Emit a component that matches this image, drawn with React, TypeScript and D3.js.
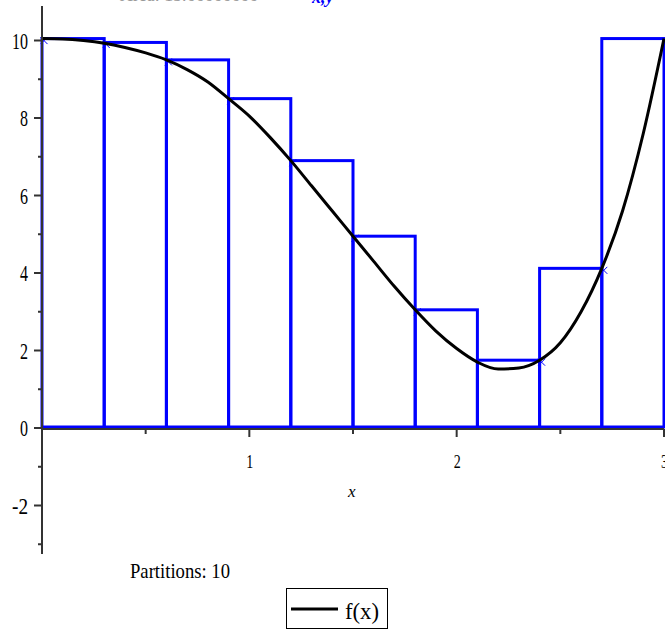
import React from "react";
import * as d3 from "d3";

const curveX = [0, 0.1, 0.2, 0.3, 0.4, 0.5, 0.6, 0.7, 0.8, 0.9, 1.0, 1.1, 1.2, 1.3, 1.4, 1.5, 1.6, 1.7, 1.8, 1.9, 2.0, 2.1, 2.2, 2.3, 2.4, 2.5, 2.6, 2.7, 2.8, 2.9, 3.0];
const curveY = [10.05, 10.04, 10.0, 9.93, 9.82, 9.68, 9.5, 9.25, 8.93, 8.5, 8.05, 7.5, 6.9, 6.25, 5.6, 4.95, 4.3, 3.65, 3.05, 2.5, 2.05, 1.7, 1.52, 1.55, 1.75, 2.2, 3.0, 4.12, 5.6, 7.6, 10.05];

const barLeft = [0, 0.3, 0.6, 0.9, 1.2, 1.5, 1.8, 2.1, 2.4, 2.7];
const barHeight = [10.05, 9.95, 9.5, 8.5, 6.9, 4.95, 3.05, 1.75, 4.12, 10.05];
const barWidth = 0.3;
const markX = [0, 0.3, 0.6, 0.9, 1.2, 1.5, 1.8, 2.4, 2.7, 3.0];

const yTicks = [-3, -2, -1, 0, 1, 2, 3, 4, 5, 6, 7, 8, 9, 10];
const yLabels = [-2, 0, 2, 4, 6, 8, 10];
const xTicks = [0.5, 1, 1.5, 2, 2.5, 3];
const xLabels = [1, 2, 3];

export default function App() {
  const x = d3.scaleLinear().domain([0, 3]).range([42, 664]);
  const y = d3.scaleLinear().domain([0, 10]).range([428, 40.5]);
  const line = d3
    .line<number>()
    .x((_, i) => x(curveX[i]))
    .y((d) => y(d))
    .curve(d3.curveMonotoneX);
  const blue = "#0000ff";
  const font = "'Liberation Serif', 'Times New Roman', serif";
  const axisColor = "#333";
  return (
    <svg
      width={665}
      height={630}
      style={{ position: "absolute", left: 0, top: 0, background: "#fff" }}
    >
      <rect x={0} y={0} width={665} height={630} fill="#fff" />
      {/* cropped title */}
      <text x={120} y={1} fontFamily={font} fontSize={18} fill="#999" textLength={138} lengthAdjust="spacingAndGlyphs">
        Area: 15.66666666
      </text>
      <text x={312} y={3} fontFamily={font} fontSize={18} fill={blue} fontStyle="italic" fontWeight="bold">
        x,y
      </text>
      {/* bars */}
      {barLeft.map((b, i) => (
        <rect
          key={i}
          x={x(b)}
          y={y(barHeight[i])}
          width={x(b + barWidth) - x(b)}
          height={y(0) - y(barHeight[i]) - 1}
          fill="none"
          stroke={blue}
          strokeWidth={3}
        />
      ))}
      {/* marks */}
      {markX.map((m, i) => {
        const cx = x(m) + 2;
        const cy = y(barHeight[i]) + 2;
        const s = 3.5;
        return (
          <g key={i} stroke={blue} strokeWidth={1}>
            <line x1={cx - s} y1={cy - s} x2={cx + s} y2={cy + s} />
            <line x1={cx - s} y1={cy + s} x2={cx + s} y2={cy - s} />
          </g>
        );
      })}
      {/* curve */}
      <path d={line(curveY) || ""} fill="none" stroke="#000" strokeWidth={3} />
      {/* axes */}
      <line x1={x(0)} x2={x(0)} y1={6} y2={y(-3.25)} stroke={axisColor} strokeWidth={2} />
      <line x1={x(0)} x2={x(3)} y1={y(0) + 1} y2={y(0) + 1} stroke={axisColor} strokeWidth={2} />
      {yTicks.map((t) => {
        const major = t % 2 === 0;
        return (
          <line
            key={t}
            x1={x(0) - (major ? 8 : 4)}
            x2={x(0)}
            y1={y(t)}
            y2={y(t)}
            stroke={axisColor}
            strokeWidth={2}
          />
        );
      })}
      {yLabels.map((t) => {
        const s = t < 0 ? "-" + Math.abs(t) : String(t);
        return (
          <text
            key={t}
            x={28}
            y={y(t) + 8}
            textAnchor="end"
            fontFamily={font}
            fontSize={23}
            fill="#000"
            textLength={s.length * 8}
            lengthAdjust="spacingAndGlyphs"
          >
            {s}
          </text>
        );
      })}
      {xTicks.map((t) => {
        const major = Number.isInteger(t);
        return (
          <line
            key={t}
            x1={x(t)}
            x2={x(t)}
            y1={y(0) + 1}
            y2={y(0) + (major ? 9 : 6)}
            stroke={axisColor}
            strokeWidth={2}
          />
        );
      })}
      {xLabels.map((t) => (
        <text
          key={t}
          x={x(t) - 3}
          y={468}
          fontFamily={font}
          fontSize={19}
          fill="#000"
          textLength={7}
          lengthAdjust="spacingAndGlyphs"
        >
          {t}
        </text>
      ))}
      <text x={348} y={497} fontFamily={font} fontSize={17} fontStyle="italic" fill="#000">
        x
      </text>
      <text
        x={130}
        y={578}
        fontFamily={font}
        fontSize={22}
        fill="#000"
        textLength={100}
        lengthAdjust="spacingAndGlyphs"
      >
        Partitions: 10
      </text>
      {/* legend */}
      <rect x={286.5} y={588.5} width={101} height={40} fill="#fff" stroke="#000" strokeWidth={1} />
      <line x1={291} x2={338} y1={609} y2={609} stroke="#000" strokeWidth={3} />
      <text
        x={345}
        y={619}
        fontFamily={font}
        fontSize={24}
        fill="#000"
        textLength={34}
        lengthAdjust="spacingAndGlyphs"
      >
        f(x)
      </text>
    </svg>
  );
}
